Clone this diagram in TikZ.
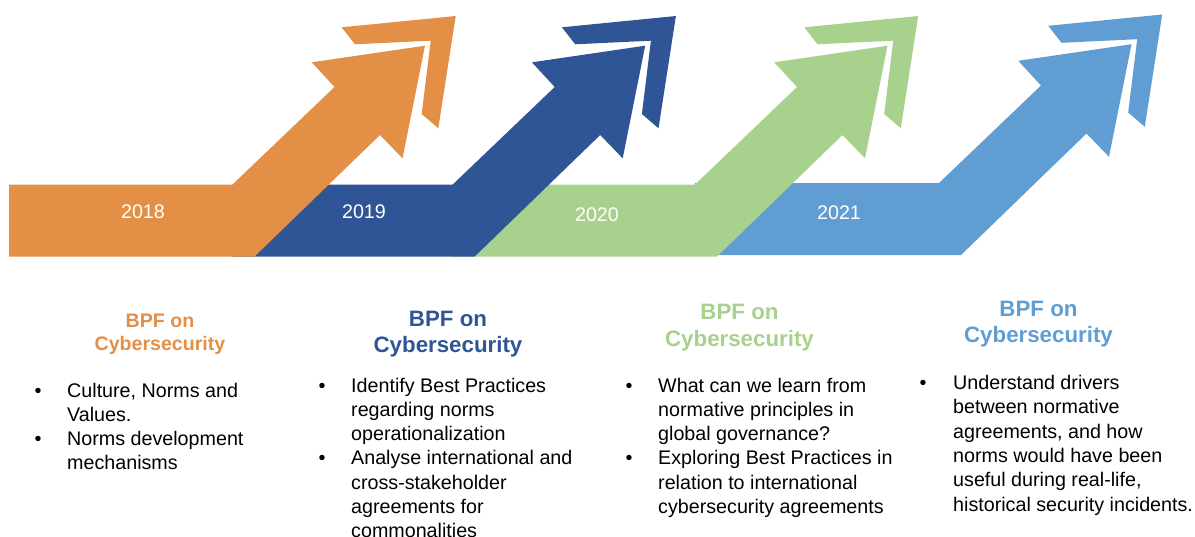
\documentclass[tikz,border=0pt]{standalone}
\usepackage{fontspec}
\setmainfont{Liberation Sans}
\usepackage{tikz}

\definecolor{bpforange}{HTML}{E38F45}
\definecolor{bpfblue}{HTML}{2F5597}
\definecolor{bpfgreen}{HTML}{A9D18E}
\definecolor{bpfsky}{HTML}{5F9DD3}

\tikzset{
    year/.style = {text=white, inner sep=0, font=\fontsize{19.7}{24}\selectfont},
    heading/.style = {font=\bfseries\fontsize{22.3}{26.3}\selectfont, align=center, anchor=base, inner sep=0},
    item/.style = {font=\fontsize{19.7}{24.3}\selectfont, align=left, anchor=base west, inner sep=0},
    dot/.style = {font=\fontsize{19.7}{24.3}\selectfont, anchor=base, inner sep=0}
}

\begin{document}
\begin{tikzpicture}[x=1pt, y=-1pt]
    \useasboundingbox (0, 0) rectangle (1195, 536);

    \foreach \x/\s/\c/\l in {939/-1.5/bpfsky/695, 695/0/bpfgreen/452.7, 452.7/0/bpfblue/232.5, 232.5/0/bpforange/9} {
        \fill [\c, shift={(0, \s)}] (\l, 184.5) -- (\x, 184.5) -- (\x+102, 87) -- (\x+79.2, 62.3)
            -- (\x+192.5, 45.7) -- (\x+170, 158.3) -- (\x+147.5, 135) -- (\x+21.8, 256.7) -- (\l, 256.7) -- cycle;
        \fill [\c, shift={(0, \s)}] (\x+109.2, 27.3) -- (\x+223.2, 16) -- (\x+205.8, 128.3) -- (\x+189.2, 114)
            -- (\x+198.2, 40.7) -- (\x+122.5, 44.3) -- cycle;
    }

    \node [year] (y2018) at (143, 212) {2018};
    \node [year] (y2019) at (364, 212) {2019};
    \node [year] (y2020) at (597, 215) {2020};
    \node [year] (y2021) at (839, 213) {2021};

    \node [heading, text=bpforange, font=\bfseries\fontsize{19.6}{23.5}\selectfont] (h2018) at (160, 350.5) {BPF on\\Cybersecurity};
    \node [heading, text=bpfblue] (h2019) at (448, 352.3) {BPF on\\Cybersecurity};
    \node [heading, text=bpfgreen] (h2020) at (739.5, 346) {BPF on\\Cybersecurity};
    \node [heading, text=bpfsky] (h2021) at (1038.5, 342.3) {BPF on\\Cybersecurity};

    \node [dot] (d2018a) at (38, 397) {•};
    \node [item] (i2018a) at (67, 421.3) {Culture, Norms and\\Values.};
    \node [dot] (d2018b) at (38, 445.6) {•};
    \node [item] (i2018b) at (67, 469.9) {Norms development\\mechanisms};

    \node [dot] (d2019a) at (322, 392) {•};
    \node [item] (i2019a) at (351, 440.6) {Identify Best Practices\\regarding norms\\operationalization};
    \node [dot] (d2019b) at (322, 464.9) {•};
    \node [item] (i2019b) at (351, 537.8) {Analyse international and\\cross-stakeholder\\agreements for\\commonalities};

    \node [dot] (d2020a) at (629, 392) {•};
    \node [item] (i2020a) at (658, 440.6) {What can we learn from\\normative principles in\\global governance?};
    \node [dot] (d2020b) at (629, 464.9) {•};
    \node [item] (i2020b) at (658, 513.5) {Exploring Best Practices in\\relation to international\\cybersecurity agreements};

    \node [dot] (d2021a) at (923, 389.5) {•};
    \node [item] (i2021a) at (953, 511) {Understand drivers\\between normative\\agreements, and how\\norms would have been\\useful during real-life,\\historical security incidents.};
\end{tikzpicture}
\end{document}
